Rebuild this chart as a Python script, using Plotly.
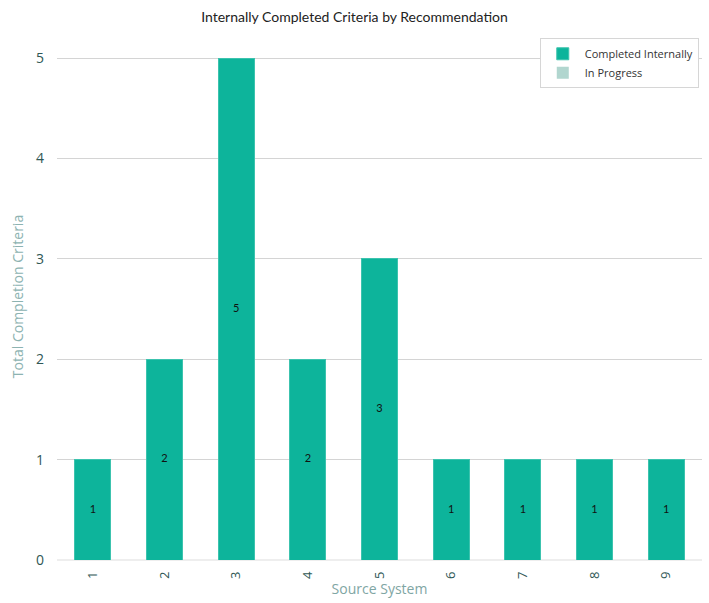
import plotly.graph_objects as go

# Completion criteria per source system
systems = ["1", "2", "3", "4", "5", "6", "7", "8", "9"]
completed = [1, 2, 5, 2, 3, 1, 1, 1, 1]
in_progress = [0, 0, 0, 0, 0, 0, 0, 0, 0]

teal = "#0db49b"
light_teal = "#b1d6cf"

fig = go.Figure()
fig.add_trace(go.Bar(
    x=systems, y=completed, name="Completed Internally",
    marker=dict(color=teal, line=dict(color="#3cc3ae", width=1)),
    width=0.5,
))
fig.add_trace(go.Bar(
    x=systems, y=in_progress, name="In Progress",
    marker=dict(color=light_teal, line=dict(width=0)),
    width=0.5,
))

# Value labels centred in each bar
fig.add_trace(go.Scatter(
    x=systems, y=[v / 2 for v in completed],
    text=[str(v) for v in completed],
    mode="text", textfont=dict(family="Lato, sans-serif", size=11, color="#111111"),
    showlegend=False, hoverinfo="skip",
))

fig.update_layout(
    barmode="stack",
    width=709, height=603,
    margin=dict(l=57, r=7, t=33, b=43),
    paper_bgcolor="white", plot_bgcolor="white",
    title=dict(text="Internally Completed Criteria by Recommendation",
               x=0.5, xanchor="center", y=0.972, yanchor="middle",
               font=dict(family="Lato, sans-serif", size=14, color="#222222")),
    legend=dict(x=0.995, xanchor="right", y=0.99, yanchor="top",
                bgcolor="white", bordercolor="#d6d6d6", borderwidth=1,
                font=dict(family="Open Sans, sans-serif", size=11, color="#333333"),
                tracegroupgap=0, traceorder="normal", itemwidth=34),
    showlegend=True,
)
fig.update_xaxes(
    range=[-0.5, 8.5], tickangle=-90, showgrid=False, zeroline=False,
    showline=False, ticks="", ticklabelstandoff=8,
    tickfont=dict(family="Open Sans, sans-serif", size=13, color="#2f5755"),
    title=dict(text="Source System", standoff=5,
               font=dict(family="Open Sans, sans-serif", size=14, color="#7fa6a4")),
)
fig.update_yaxes(
    range=[0, 5.25], dtick=1, showgrid=True, gridcolor="#d4d4d4", gridwidth=1,
    zeroline=True, zerolinecolor="#eeeeee", showline=False, ticks="",
    ticklabelstandoff=12,
    tickfont=dict(family="Open Sans, sans-serif", size=14, color="#2f5755"),
    title=dict(text="Total Completion Criteria", standoff=9,
               font=dict(family="Open Sans, sans-serif", size=14, color="#8db3b1")),
)

fig.write_html("out.html")
